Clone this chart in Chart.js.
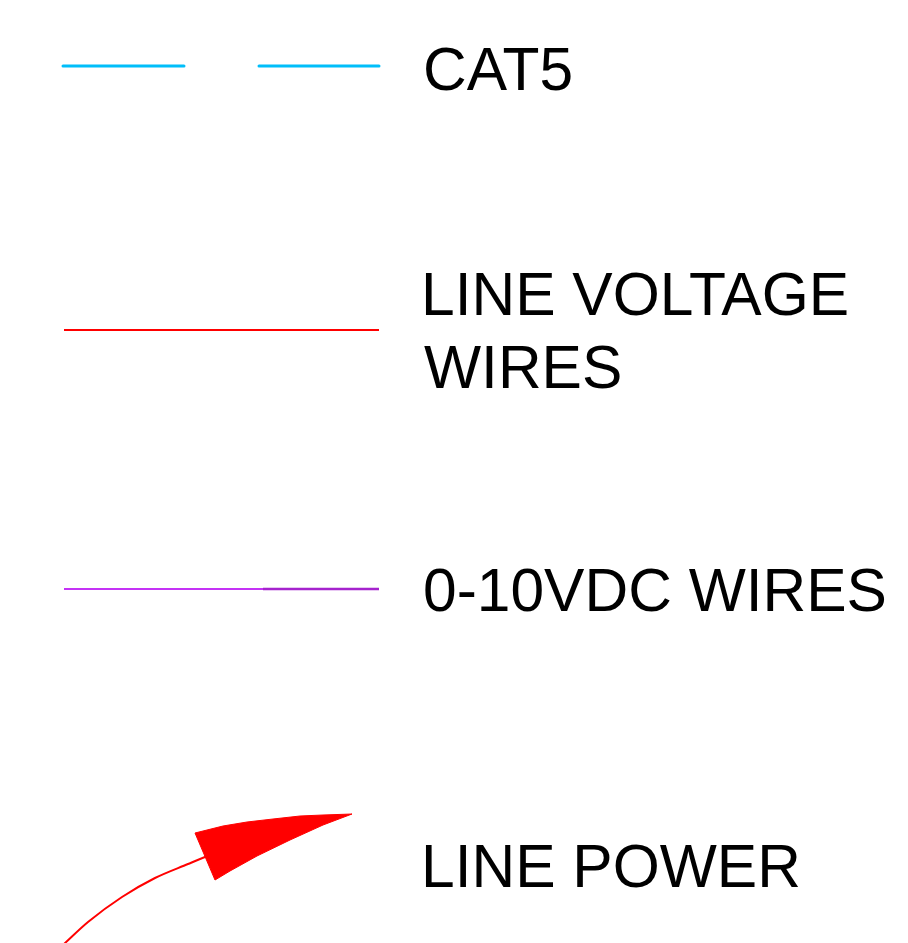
<!DOCTYPE html>
<html>
<head>
<meta charset="utf-8">
<script src="https://cdn.jsdelivr.net/npm/chart.js@4/dist/chart.umd.min.js"></script>
<style>
  html, body { margin: 0; padding: 0; background: #ffffff; }
  #wrap { width: 908px; height: 943px; position: relative; }
</style>
</head>
<body>
<div id="wrap"><canvas id="c"></canvas></div>
<script>
// ---- Legend items (text) ----
const legendLabels = ["CAT5", "LINE VOLTAGE", "WIRES", "0-10VDC WIRES", "LINE POWER"];

// ---- Symbol geometry, in the drawing's own coordinate units (x: 0-908, y: 0-943 top-down) ----
const cat5DashA = [[63, 66], [184, 66]];
const cat5DashB = [[259, 66], [379, 66]];
const lineVoltage = [[64, 330], [379, 330]];
const vdcLight = [[64, 589], [263, 589]];
const vdcDark = [[263, 589], [379, 589]];
const powerTail = [[64, 944], [88, 922], [122, 897], [155, 878], [188, 864], [205, 857], [216, 853]];
const powerHead = [[195, 833], [223, 826], [247, 822], [273, 819], [300, 816], [323, 815], [352, 814],
                   [323, 825], [290, 840], [257, 856], [230, 871], [215, 880], [195, 833]];

// label anchors (x, baseline y) in the same units
const labelAnchors = [[423, 90], [421, 315], [424, 388], [423, 611], [421, 887]];

const pts = a => a.map(([x, y]) => ({x, y}));

const textPlugin = {
  id: 'legendText',
  afterDatasetsDraw(chart) {
    const {ctx, scales: {x, y}} = chart;
    ctx.save();
    ctx.fillStyle = '#000000';
    ctx.font = '60.5px "Liberation Sans", Arial, sans-serif';
    ctx.textBaseline = 'alphabetic';
    ctx.textAlign = 'left';
    legendLabels.forEach((t, i) => {
      const [ax, ay] = labelAnchors[i];
      ctx.fillText(t, x.getPixelForValue(ax), y.getPixelForValue(ay));
    });
    ctx.restore();
  }
};

const base = { showLine: true, pointRadius: 0, pointHoverRadius: 0, tension: 0, fill: false };

new Chart(document.getElementById('c'), {
  type: 'scatter',
  data: {
    datasets: [
      Object.assign({}, base, { label: 'CAT5 a', data: pts(cat5DashA), borderColor: 'rgb(0,190,250)', borderWidth: 3, borderCapStyle: 'round' }),
      Object.assign({}, base, { label: 'CAT5 b', data: pts(cat5DashB), borderColor: 'rgb(0,190,250)', borderWidth: 3, borderCapStyle: 'round' }),
      Object.assign({}, base, { label: 'Line voltage', data: pts(lineVoltage), borderColor: '#ff0000', borderWidth: 2 }),
      Object.assign({}, base, { label: '0-10VDC a', data: pts(vdcLight), borderColor: 'rgb(196,50,245)', borderWidth: 2 }),
      Object.assign({}, base, { label: '0-10VDC b', data: pts(vdcDark), borderColor: 'rgb(165,35,205)', borderWidth: 2.5 }),
      Object.assign({}, base, { label: 'Power tail', data: pts(powerTail), borderColor: '#ff0000', borderWidth: 2, cubicInterpolationMode: 'monotone' }),
      Object.assign({}, base, { label: 'Power head', data: pts(powerHead), borderColor: '#ff0000', backgroundColor: '#ff0000', borderWidth: 1, fill: 'shape' })
    ]
  },
  options: {
    responsive: true,
    maintainAspectRatio: false,
    animation: false,
    events: [],
    layout: { padding: 0 },
    plugins: { legend: { display: false }, tooltip: { enabled: false }, title: { display: false } },
    scales: {
      x: { type: 'linear', min: 0, max: 908, display: false },
      y: { type: 'linear', min: 0, max: 943, reverse: true, display: false }
    }
  },
  plugins: [textPlugin]
});
</script>
</body>
</html>
